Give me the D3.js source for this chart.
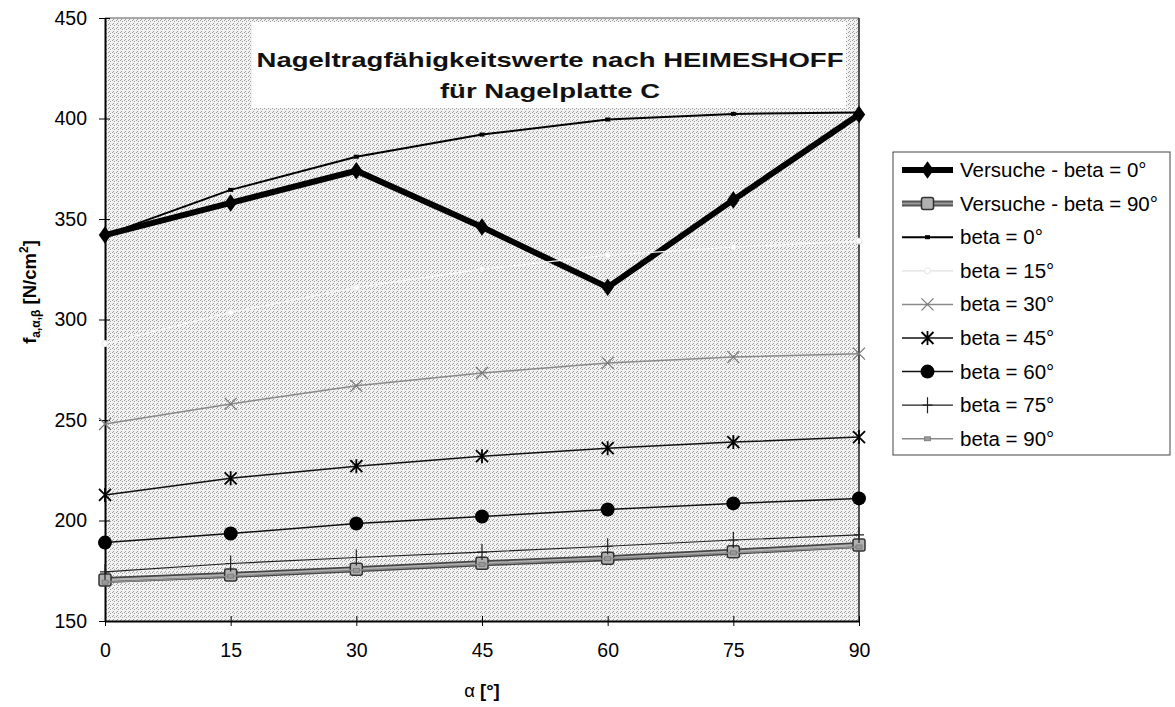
<!DOCTYPE html>
<html>
<head>
<meta charset="utf-8">
<script src="https://cdnjs.cloudflare.com/ajax/libs/d3/7.8.5/d3.min.js"></script>
<style>
  html, body { margin: 0; padding: 0; background: #fff; }
  svg { display: block; font-family: Arial, "Liberation Sans", sans-serif; }
</style>
</head>
<body>
<svg id="chart" width="1175" height="707"></svg>
<script>
// ---------- data ----------
const alpha = [0, 15, 30, 45, 60, 75, 90];
const versuche0  = [342, 358, 374, 346, 316, 359.5, 402];
const versuche90 = [170.4, 172.9, 175.7, 178.7, 181.2, 184.5, 187.8];
const beta0  = [342, 364.5, 381, 392, 399.5, 402.3, 403];
const beta15 = [288, 303.5, 316, 325, 332, 336, 339];
const beta30 = [248, 258, 267, 273.4, 278.4, 281.3, 283];
const beta45 = [212.7, 221, 227, 232, 236, 239, 241.5];
const beta60 = [189, 193.5, 198.5, 202, 205.5, 208.5, 211];
const beta75 = [174.4, 178.6, 181.6, 184.3, 187.2, 190.3, 192.8];
const beta90 = [169.3, 172.3, 175.2, 178.2, 181, 183.9, 186.8];
const seriesNames = ["Versuche - beta = 0°", "Versuche - beta = 90°", "beta = 0°", "beta = 15°",
  "beta = 30°", "beta = 45°", "beta = 60°", "beta = 75°", "beta = 90°"];
const xTicks = [0, 15, 30, 45, 60, 75, 90];
const yTicks = [150, 200, 250, 300, 350, 400, 450];
const titleLines = ["Nageltragfähigkeitswerte nach HEIMESHOFF", "für Nagelplatte C"];

// ---------- styles ----------
const styles = [
  {values: versuche0,  color: "#000", width: 6,   marker: "diamond"},
  {values: versuche90, color: "#6e6e6e", width: 6, marker: "bigsquare"},
  {values: beta0,  color: "#000", width: 2,   marker: "smallsquare"},
  {values: beta15, color: "#f8f8f8", width: 1.3, marker: "smallcircle"},
  {values: beta30, color: "#8a8a8a", width: 1.5, marker: "x"},
  {values: beta45, color: "#111", width: 1.5, marker: "star"},
  {values: beta60, color: "#111", width: 1.5, marker: "dot"},
  {values: beta75, color: "#222", width: 1.2, marker: "plus"},
  {values: beta90, color: "#8a8a8a", width: 1.5, marker: "tinysquare"}
];

const svg = d3.select("#chart");
const x = d3.scaleLinear().domain([0, 90]).range([105, 859]);
const y = d3.scaleLinear().domain([150, 450]).range([621, 18]);

// stipple pattern for plot area
const defs = svg.append("defs");
const pat = defs.append("pattern").attr("id", "stipple").attr("patternUnits", "userSpaceOnUse")
  .attr("width", 4).attr("height", 4);
pat.append("rect").attr("width", 4).attr("height", 4).attr("fill", "#f2f2f2");
[[0, 0], [2, 1], [1, 3]].forEach(p =>
  pat.append("rect").attr("x", p[0]).attr("y", p[1]).attr("width", 1).attr("height", 1).attr("fill", "#9c9c9c"));

// plot background
svg.append("rect").attr("x", x(0)).attr("y", y(450))
  .attr("width", x(90) - x(0)).attr("height", y(150) - y(450))
  .attr("fill", "url(#stipple)");

// title box
svg.append("rect").attr("x", 252).attr("y", 22).attr("width", 594).attr("height", 86).attr("fill", "#fff");

// borders top/right
svg.append("line").attr("x1", x(0)).attr("x2", x(90)).attr("y1", y(450)).attr("y2", y(450))
  .attr("stroke", "#555").attr("stroke-width", 1);
svg.append("line").attr("x1", x(90)).attr("x2", x(90)).attr("y1", y(450)).attr("y2", y(150))
  .attr("stroke", "#222").attr("stroke-width", 1.5);

// axes
const yAxis = svg.append("g").attr("transform", `translate(${x(0)},0)`)
  .call(d3.axisLeft(y).tickValues(yTicks).tickSize(6).tickPadding(12).tickSizeOuter(0));
yAxis.select(".domain").attr("stroke", "#000").attr("stroke-width", 2);
yAxis.selectAll(".tick line").attr("stroke", "#000").attr("x2", 5).attr("x1", -6);
yAxis.selectAll(".tick text").attr("font-size", 19.5).attr("fill", "#000")
  .attr("font-family", "Arial, 'Liberation Sans', sans-serif");

const xAxis = svg.append("g").attr("transform", `translate(0,${y(150)})`)
  .call(d3.axisBottom(x).tickValues(xTicks).tickSize(5).tickPadding(17).tickSizeOuter(0));
xAxis.select(".domain").attr("stroke", "#000").attr("stroke-width", 2);
xAxis.selectAll(".tick line").attr("stroke", "#000").attr("y1", -5).attr("y2", 5);
xAxis.selectAll(".tick text").attr("font-size", 19.5).attr("fill", "#000")
  .attr("font-family", "Arial, 'Liberation Sans', sans-serif");

// marker drawing
function drawMarker(g, type, cx, cy, color) {
  const m = g.append("g").attr("transform", `translate(${cx},${cy})`);
  switch (type) {
    case "diamond":
      m.append("path").attr("d", d3.symbol(d3.symbolDiamond, 110)()).attr("fill", "#000")
        .attr("transform", "scale(1.1,0.9)");
      break;
    case "bigsquare":
      m.append("rect").attr("x", -6).attr("y", -6).attr("width", 12).attr("height", 12)
        .attr("rx", 2).attr("fill", "#b0b0b0").attr("stroke", "#333").attr("stroke-width", 1.5);
      break;
    case "smallsquare":
      m.append("rect").attr("x", -2.5).attr("y", -2).attr("width", 5).attr("height", 4).attr("fill", "#000");
      break;
    case "smallcircle":
      m.append("circle").attr("r", 3).attr("fill", "#fff").attr("stroke", "#e6e6e6");
      break;
    case "x":
      m.append("path").attr("d", "M-6,-6L6,6M-6,6L6,-6").attr("stroke", "#777").attr("stroke-width", 1.2);
      break;
    case "star":
      m.append("path").attr("d", "M-6,-6L6,6M-6,6L6,-6M0,-7L0,7").attr("stroke", "#000").attr("stroke-width", 1.8);
      break;
    case "dot":
      m.append("circle").attr("r", 7).attr("fill", "#000");
      break;
    case "plus":
      m.append("path").attr("d", "M-5,0L5,0M0,-8L0,8").attr("stroke", "#222").attr("stroke-width", 1.2);
      break;
    case "tinysquare":
      m.append("rect").attr("x", -3).attr("y", -2).attr("width", 6).attr("height", 4)
        .attr("fill", "#999").attr("stroke", "#777").attr("stroke-width", 0.8);
      break;
  }
}

// series
const line = d3.line().x((d, i) => x(alpha[i])).y(d => y(d));
styles.forEach((s, k) => {
  const g = svg.append("g").attr("class", "series");
  if (k === 1) {
    g.append("path").attr("d", line(s.values)).attr("fill", "none")
      .attr("stroke", "#444").attr("stroke-width", 6).attr("stroke-linejoin", "round");
    g.append("path").attr("d", line(s.values)).attr("fill", "none")
      .attr("stroke", "#b4b4b4").attr("stroke-width", 2.5);
  } else {
    g.append("path").attr("d", line(s.values)).attr("fill", "none")
      .attr("stroke", s.color).attr("stroke-width", s.width).attr("stroke-linejoin", "miter");
  }
  s.values.forEach((v, i) => drawMarker(g, s.marker, x(alpha[i]), y(v), s.color));
});

// title
titleLines.forEach((t, i) => {
  svg.append("g").attr("transform", `translate(550,${67 + i * 31}) scale(1.31,1)`)
    .append("text").attr("text-anchor", "middle").attr("font-weight", "bold")
    .attr("font-size", 21).attr("fill", "#111").text(t);
});

// legend
const lg = svg.append("g");
lg.append("rect").attr("x", 893).attr("y", 152).attr("width", 277).attr("height", 303)
  .attr("fill", "#fff").attr("stroke", "#444").attr("stroke-width", 1);
styles.forEach((s, k) => {
  const cy = 170 + k * 33.6;
  const g = lg.append("g");
  if (k === 1) {
    g.append("line").attr("x1", 902).attr("x2", 953).attr("y1", cy).attr("y2", cy)
      .attr("stroke", "#555").attr("stroke-width", 6);
    g.append("line").attr("x1", 902).attr("x2", 953).attr("y1", cy).attr("y2", cy)
      .attr("stroke", "#999").attr("stroke-width", 2);
  } else {
    g.append("line").attr("x1", 902).attr("x2", 953).attr("y1", cy).attr("y2", cy)
      .attr("stroke", k === 3 ? "#e0e0e0" : s.color).attr("stroke-width", s.width);
  }
  drawMarker(g, s.marker, 927.5, cy, s.color);
  g.append("text").attr("x", 960).attr("y", cy + 7).attr("font-size", 20.5).attr("fill", "#000")
    .text(seriesNames[k]);
});

// y axis title
const yt = svg.append("text").attr("transform", "translate(36,292) rotate(-90)")
  .attr("text-anchor", "middle").attr("font-weight", "bold").attr("font-size", 18.5).attr("fill", "#000");
yt.append("tspan").text("f");
yt.append("tspan").attr("font-size", 12).attr("dy", 4).text("a,α,β");
yt.append("tspan").attr("dy", -4).text(" [N/cm");
yt.append("tspan").attr("font-size", 12).attr("dy", -8).text("2");
yt.append("tspan").attr("dy", 8).text("]");

// x axis title
const xt = svg.append("text").attr("x", 482).attr("y", 697).attr("text-anchor", "middle")
  .attr("font-size", 18.5).attr("fill", "#000");
xt.append("tspan").text("α ");
xt.append("tspan").attr("font-weight", "bold").text("[°]");
</script>
</body>
</html>
